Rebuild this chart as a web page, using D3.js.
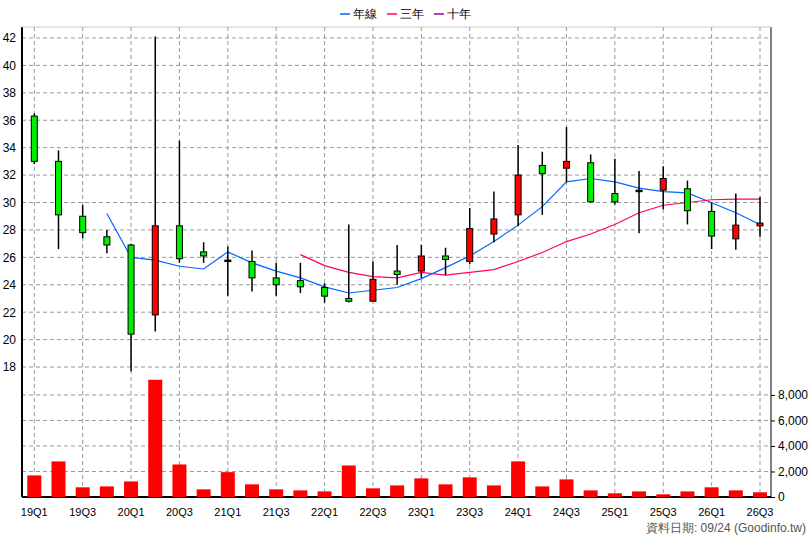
<!DOCTYPE html>
<html>
<head>
<meta charset="utf-8">
<script src="https://d3js.org/d3.v7.min.js"></script>
<style>
  body { margin: 0; background: #fff; font-family: "Liberation Sans", Arial, sans-serif; }
</style>
</head>
<body>
<svg id="chart" width="808" height="540"></svg>
<script>
// quarters and OHLC (open, high, low, close)
const quarters = ["19Q1","19Q2","19Q3","19Q4","20Q1","20Q2","20Q3","20Q4","21Q1","21Q2","21Q3","21Q4",
  "22Q1","22Q2","22Q3","22Q4","23Q1","23Q2","23Q3","23Q4","24Q1","24Q2","24Q3","24Q4",
  "25Q1","25Q2","25Q3","25Q4","26Q1","26Q2","26Q3"];
const openP  = [36.3,33.0,29.0,27.5,26.9,21.8,28.3,26.4,25.8,25.7,24.5,24.3,23.8,23.0,22.8,25.0,25.0,26.1,25.7,27.7,29.1,32.7,32.5,32.9,30.65,30.9,30.9,31.0,29.35,27.35,28.3];
const highP  = [36.5,33.8,29.8,28.0,27.0,42.1,34.5,27.1,26.8,26.5,25.6,25.6,24.1,28.4,25.7,26.9,26.9,26.7,29.6,30.8,34.2,33.7,35.5,33.5,33.2,32.3,32.65,31.6,30.0,30.65,30.4];
const lowP   = [32.8,26.6,27.4,26.3,17.7,20.6,25.6,25.6,23.2,23.5,23.2,23.4,22.7,22.7,22.8,24.0,24.5,24.7,25.5,27.1,28.3,29.1,31.5,30.0,29.85,27.75,29.5,28.4,26.6,26.55,27.5];
const closeP = [33.0,29.1,27.8,26.9,20.4,28.3,25.9,26.1,25.8,24.5,24.0,23.85,23.17,22.8,24.4,24.75,26.1,25.85,28.1,28.8,32.0,32.1,33.0,30.05,30.05,30.9,31.75,29.4,27.55,28.35,28.5];
const volume = [1690,2790,760,830,1220,9190,2550,600,1950,990,600,520,440,2470,680,910,1460,990,1540,910,2790,830,1380,520,290,440,210,440,760,520,370];
const maYear = [null,null,null,29.2,26.0,25.8,25.35,25.15,26.4,25.6,25.0,24.5,23.85,23.4,23.6,23.8,24.45,25.25,26.1,27.15,28.35,29.7,31.5,31.75,31.5,31.05,30.8,30.7,29.98,29.25,28.4];
const ma3Year = [null,null,null,null,null,null,null,null,null,null,null,26.2,25.4,24.9,24.6,24.5,24.9,24.7,24.9,25.1,25.7,26.35,27.15,27.7,28.4,29.25,29.8,30.0,30.2,30.25,30.25];
const priceTicks = [18,20,22,24,26,28,30,32,34,36,38,40,42];
const volTicks = [0,2000,4000,6000,8000];

const svg = d3.select("#chart");
const L = 22, R = 771, pTop = 27, pBot = 378, vTop = 379, vBot = 497;

const x = d3.scaleLinear().domain([0, quarters.length - 1]).range([34.3, 760]);
const y = d3.scaleLinear().domain([17.2, 42.8]).range([pBot, pTop]);
const yv = d3.scaleLinear().domain([0, 9250]).range([vBot, vTop]);

// grid
const grid = svg.append("g").attr("stroke", "#999").attr("stroke-dasharray", "4,3").attr("stroke-width", 1);
quarters.forEach((q, i) => {
  if (i % 2 === 0) grid.append("line").attr("x1", x(i)).attr("x2", x(i)).attr("y1", pTop).attr("y2", vBot);
});
priceTicks.forEach(t => grid.append("line").attr("x1", L).attr("x2", R).attr("y1", y(t)).attr("y2", y(t)));
volTicks.slice(1).forEach(t => grid.append("line").attr("x1", L).attr("x2", R).attr("y1", yv(t)).attr("y2", yv(t)));

// axes
svg.append("g").attr("transform", `translate(${L},0)`)
  .call(d3.axisLeft(y).tickValues(priceTicks).tickSize(0).tickPadding(6))
  .call(g => g.select(".domain").remove())
  .selectAll("text").attr("font-size", 12).attr("fill", "#000");
svg.append("g").attr("transform", `translate(${R},0)`)
  .call(d3.axisRight(yv).tickValues(volTicks).tickSize(4).tickFormat(d3.format(",")))
  .call(g => g.select(".domain").remove())
  .selectAll("text").attr("font-size", 12).attr("fill", "#000");
svg.append("line").attr("x1", L).attr("x2", L).attr("y1", pTop).attr("y2", vBot).attr("stroke", "#000").attr("stroke-width", 2);
svg.append("line").attr("x1", R).attr("x2", R).attr("y1", pTop).attr("y2", vBot).attr("stroke", "#000").attr("stroke-width", 1);
svg.append("line").attr("x1", L).attr("x2", R).attr("y1", vBot).attr("y2", vBot).attr("stroke", "#000").attr("stroke-width", 2);
svg.append("line").attr("x1", L).attr("x2", R).attr("y1", pTop).attr("y2", pTop).attr("stroke", "#ccc");

// x labels
svg.append("g").selectAll("text").data(quarters.filter((q, i) => i % 2 === 0)).join("text")
  .attr("x", (d) => x(quarters.indexOf(d))).attr("y", 516).attr("text-anchor", "middle")
  .attr("font-size", 11).text(d => d);

// volume bars
svg.append("g").selectAll("rect").data(volume).join("rect")
  .attr("x", (d, i) => x(i) - 7).attr("width", 14)
  .attr("y", d => yv(d)).attr("height", d => vBot - yv(d)).attr("fill", "#ff0000");

// moving averages
const line = d3.line().defined(d => d != null).x((d, i) => x(i)).y(d => y(d));
svg.append("path").datum(maYear).attr("d", line).attr("fill", "none").attr("stroke", "#0066ff").attr("stroke-width", 1.2);
svg.append("path").datum(ma3Year).attr("d", line).attr("fill", "none").attr("stroke", "#ff0066").attr("stroke-width", 1.2);

// candles
const candles = svg.append("g").selectAll("g").data(quarters).join("g");
candles.append("line").attr("x1", (d, i) => x(i)).attr("x2", (d, i) => x(i))
  .attr("y1", (d, i) => y(highP[i])).attr("y2", (d, i) => y(lowP[i])).attr("stroke", "#000").attr("stroke-width", 1.5);
candles.append("rect")
  .attr("x", (d, i) => x(i) - 3).attr("width", 6)
  .attr("y", (d, i) => y(Math.max(openP[i], closeP[i])))
  .attr("height", (d, i) => Math.max(1.5, Math.abs(y(openP[i]) - y(closeP[i]))))
  .attr("fill", (d, i) => closeP[i] > openP[i] ? "#ff0000" : closeP[i] < openP[i] ? "#00ee00" : "#000")
  .attr("stroke", "#000").attr("stroke-width", 1);

// legend
const legend = [["年線", "#0066ff"], ["三年", "#ff0066"], ["十年", "#990099"]];
const lg = svg.append("g").attr("font-size", 12);
legend.forEach((d, i) => {
  const lx = 340 + i * 47;
  lg.append("line").attr("x1", lx).attr("x2", lx + 10).attr("y1", 14).attr("y2", 14).attr("stroke", d[1]).attr("stroke-width", 1.5);
  lg.append("text").attr("x", lx + 13).attr("y", 18).text(d[0]);
});

svg.append("text").attr("x", 806).attr("y", 532).attr("text-anchor", "end").attr("font-size", 12)
  .attr("fill", "#555").text("資料日期: 09/24  (Goodinfo.tw)");
</script>
</body>
</html>
